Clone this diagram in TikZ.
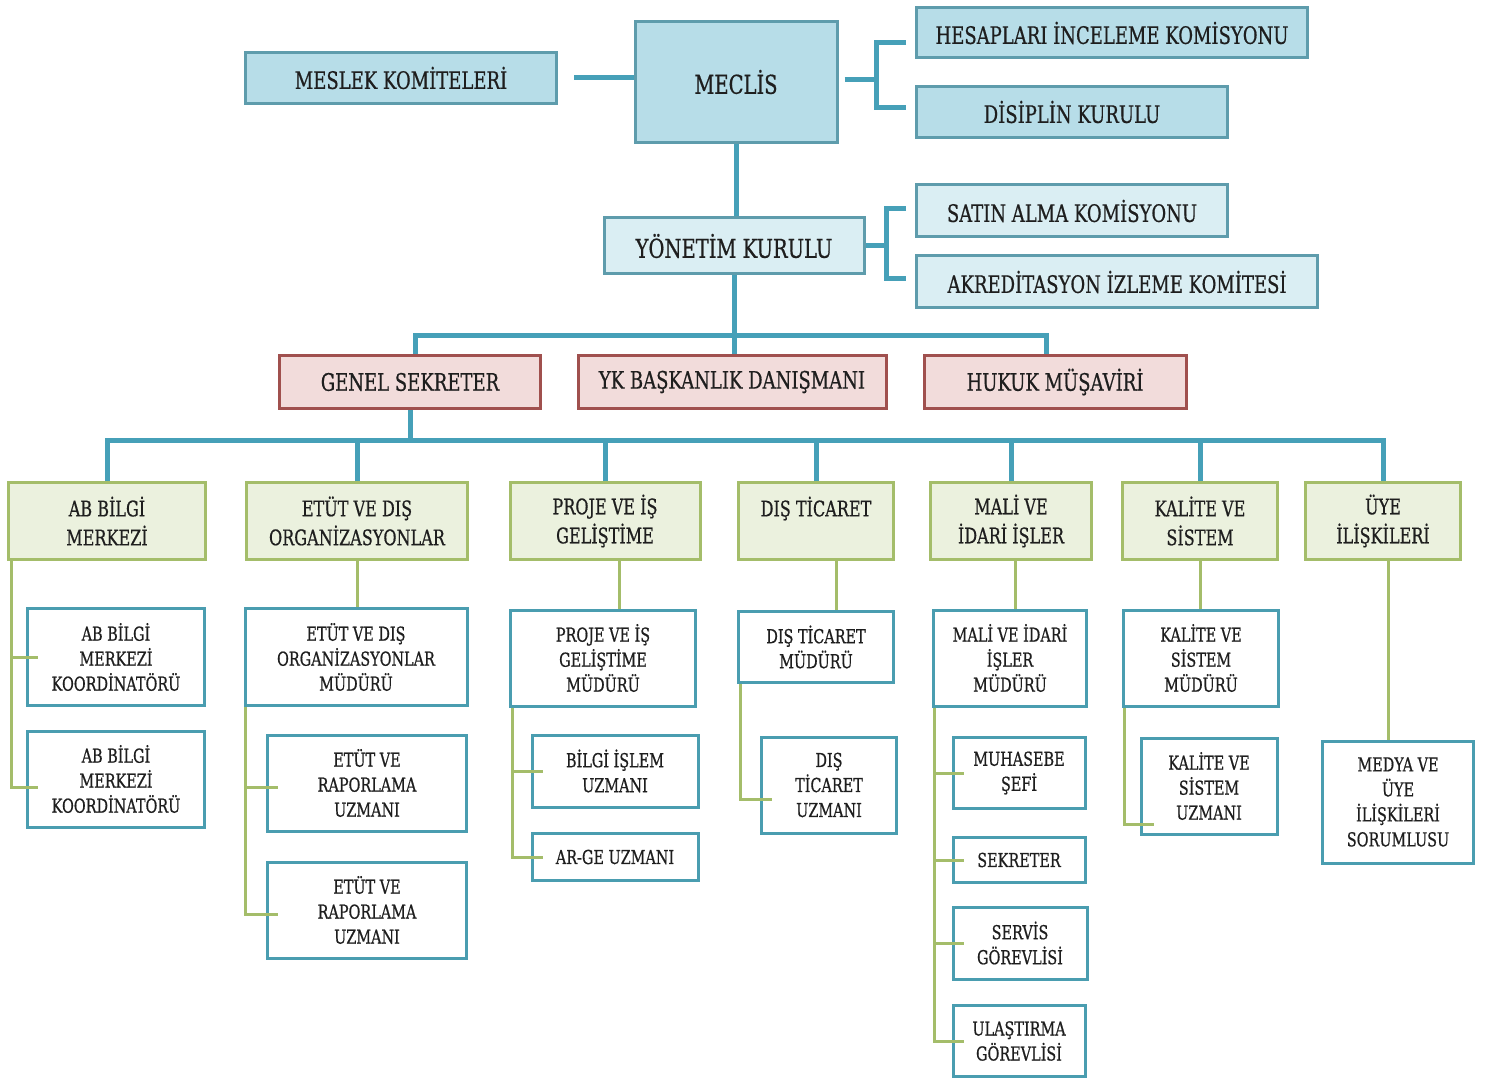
\documentclass[tikz,border=0pt]{standalone}
\usepackage{fontspec}
\setmainfont[FakeStretch=0.75,FakeBold=0.6]{DejaVu Serif}
\definecolor{topfill}{HTML}{B7DDE8}
\definecolor{ykfill}{HTML}{DAEEF3}
\definecolor{topline}{HTML}{5E9CAC}
\definecolor{redfill}{HTML}{F2DCDB}
\definecolor{redline}{HTML}{A0504E}
\definecolor{grnfill}{HTML}{EBF1DE}
\definecolor{grnline}{HTML}{A4BD6A}
\definecolor{subline}{HTML}{4A9DB0}
\definecolor{teal}{HTML}{46A0B8}
\definecolor{ink}{HTML}{1E1E1E}
\tikzset{
	sz/.style 2 args={minimum width=#1*0.5pt, minimum height=#2*0.5pt},
	bx/.style={draw, line width=1.5pt, align=center, inner sep=0pt, text=ink},
	topbox/.style={bx, draw=topline, fill=topfill, font=\fontsize{12}{14}\selectfont},
	ykbox/.style={topbox, fill=ykfill},
	redbox/.style={bx, draw=redline, fill=redfill, font=\fontsize{12}{14}\selectfont},
	deptbox/.style={bx, draw=grnline, fill=grnfill, font=\fontsize{10.7}{14.5}\selectfont},
	subbox/.style={bx, draw=subline, fill=white, font=\fontsize{9.6}{12.5}\selectfont},
	tline/.style={draw=teal, line width=2.5pt},
	gline/.style={draw=grnline, line width=1.5pt}
}
\begin{document}
\begin{tikzpicture}[x=0.5pt,y=-0.5pt]
	\useasboundingbox (0,0) rectangle (1491,1079);
	
	% meclis level
	\node[topbox, sz={311}{51}] (mk) at (401,78) {MESLEK KOMİTELERİ};
	\node[topbox, sz={202}{121}, font=\fontsize{13}{15}\selectfont] (meclis) at (736,82) {MECLİS};
	\node[topbox, sz={391}{50}] (hik) at (1112,33) {HESAPLARI İNCELEME KOMİSYONU};
	\node[topbox, sz={311}{51}] (dk) at (1072,112) {DİSİPLİN KURULU};
	
	% yonetim level
	\node[ykbox, sz={260}{56}, font=\fontsize{13}{15}\selectfont] (yk) at (734,246) {YÖNETİM KURULU};
	\node[ykbox, sz={311}{52}] (sak) at (1072,211) {SATIN ALMA KOMİSYONU};
	\node[ykbox, sz={401}{52}] (aik) at (1117,282) {AKREDİTASYON İZLEME KOMİTESİ};
	
	% red row
	\node[redbox, sz={261}{53}] (gs) at (410,382) {GENEL SEKRETER};
	\node[redbox, sz={308}{53}] (ykd) at (732,382) {YK BAŞKANLIK DANIŞMANI};
	\node[redbox, sz={262}{53}] (hm) at (1055,382) {HUKUK MÜŞAVİRİ};
	
	% departments
	\node[deptbox, sz={197}{77}] (d1) at (107,521) {AB BİLGİ\\MERKEZİ};
	\node[deptbox, sz={221}{77}] (d2) at (357,521) {ETÜT VE DIŞ\\ORGANİZASYONLAR};
	\node[deptbox, sz={190}{77}] (d3) at (605,521) {PROJE VE İŞ\\GELİŞTİME};
	\node[deptbox, sz={155}{77}] (d4) at (816,521) {DIŞ TİCARET\\\mbox{}};
	\node[deptbox, sz={161}{77}] (d5) at (1011,521) {MALİ VE\\İDARİ İŞLER};
	\node[deptbox, sz={155}{77}] (d6) at (1200,521) {KALİTE VE\\SİSTEM};
	\node[deptbox, sz={155}{77}] (d7) at (1383,521) {ÜYE\\İLİŞKİLERİ};
	
	% sub units
	\node[subbox, sz={177}{97}] (a1) at (116,657) {AB BİLGİ\\MERKEZİ\\KOORDİNATÖRÜ};
	\node[subbox, sz={177}{96}] (a2) at (116,779) {AB BİLGİ\\MERKEZİ\\KOORDİNATÖRÜ};
	
	\node[subbox, sz={222}{97}] (e0) at (356,657) {ETÜT VE DIŞ\\ORGANİZASYONLAR\\MÜDÜRÜ};
	\node[subbox, sz={199}{96}] (e1) at (367,783) {ETÜT VE\\RAPORLAMA\\UZMANI};
	\node[subbox, sz={199}{96}] (e2) at (367,910) {ETÜT VE\\RAPORLAMA\\UZMANI};
	
	\node[subbox, sz={185}{96}] (p0) at (603,658) {PROJE VE İŞ\\GELİŞTİME\\MÜDÜRÜ};
	\node[subbox, sz={166}{72}] (p1) at (615,771) {BİLGİ İŞLEM\\UZMANI};
	\node[subbox, sz={166}{47}] (p2) at (615,857) {AR-GE UZMANI};
	
	\node[subbox, sz={155}{71}] (t0) at (816,647) {DIŞ TİCARET\\MÜDÜRÜ};
	\node[subbox, sz={135}{96}] (t1) at (829,785) {DIŞ\\TİCARET\\UZMANI};
	
	\node[subbox, sz={153}{96}] (m0) at (1010,658) {MALİ VE İDARİ\\İŞLER\\MÜDÜRÜ};
	\node[subbox, sz={132}{71}] (m1) at (1019,773) {MUHASEBE\\ŞEFİ};
	\node[subbox, sz={132}{45}] (m2) at (1019,860) {SEKRETER};
	\node[subbox, sz={134}{72}] (m3) at (1020,943) {SERVİS\\GÖREVLİSİ};
	\node[subbox, sz={132}{71}] (m4) at (1019,1041) {ULAŞTIRMA\\GÖREVLİSİ};
	
	\node[subbox, sz={155}{96}] (k0) at (1201,658) {KALİTE VE\\SİSTEM\\MÜDÜRÜ};
	\node[subbox, sz={136}{96}] (k1) at (1209,786) {KALİTE VE\\SİSTEM\\UZMANI};
	
	\node[subbox, sz={151}{122}] (u1) at (1398,802) {MEDYA VE\\ÜYE\\İLİŞKİLERİ\\SORUMLUSU};
	
	% teal connectors
	\coordinate (br1) at (876,80);
	\coordinate (br2) at (886,246);
	\coordinate (bar1) at (734,336);
	\coordinate (bar2) at (410,440);
	\draw[tline] ([xshift=8pt]mk.east) -- (meclis.west |- mk.east);
	\draw[tline] ([xshift=3pt]meclis.east |- br1) -- (br1);
	\draw[tline] ([xshift=-4.5pt,yshift=-5pt]hik.west) -| (br1) |- ([xshift=-4.5pt,yshift=2pt]dk.west);
	\draw[tline] (meclis.south) -- (meclis.south |- yk.north);
	\draw[tline] (yk.east) -- (br2);
	\draw[tline] ([xshift=-4.5pt,yshift=1pt]sak.west) -| (br2) |- ([xshift=-4.5pt,yshift=1.5pt]aik.west);
	\draw[tline] (yk.south) -- (yk.south |- ykd.north);
	\draw[tline] ([xshift=2.5pt]gs.north) |- (bar1) -| ([xshift=-4.5pt]hm.north);
	\draw[tline] (gs.south) -- (bar2);
	\draw[tline] (d1.north) |- (bar2) -| (d7.north);
	\foreach \i in {2,...,6}
		\draw[tline] (d\i.north) -- (d\i.north |- bar2);
	
	% green connectors
	\draw[gline] ([xshift=2pt]d1.south west) |- ([xshift=6pt]a1.west);
	\draw[gline] ([xshift=2pt]d1.south west) |- ([xshift=6pt,yshift=-4pt]a2.west);
	
	\draw[gline] (d2.south) -- (d2.south |- e0.north);
	\foreach \n in {e1,e2}
		\draw[gline] ([xshift=1pt]e0.south west) |- ([xshift=6pt,yshift=-2pt]\n.west);
	
	\draw[gline] ([xshift=7pt]d3.south) -- ([xshift=7pt]d3.south |- p0.north);
	\foreach \n in {p1,p2}
		\draw[gline] ([xshift=1.5pt]p0.south west) |- ([xshift=6pt]\n.west);
	
	\draw[gline] ([xshift=10pt]d4.south) -- ([xshift=10pt]d4.south |- t0.north);
	\draw[gline] ([xshift=1.5pt]t0.south west) |- ([xshift=6pt,yshift=-7pt]t1.west);
	
	\draw[gline] ([xshift=2pt]d5.south) -- ([xshift=2pt]d5.south |- m0.north);
	\foreach \n in {m1,m2,m3,m4}
		\draw[gline] ([xshift=1pt]m0.south west) |- ([xshift=6pt]\n.west);
	
	\draw[gline] (d6.south) -- (d6.south |- k0.north);
	\draw[gline] ([xshift=1pt]k0.south west) |- ([xshift=7pt,yshift=-19pt]k1.west);
	
	\draw[gline] ([xshift=2.5pt]d7.south) -- ([xshift=2.5pt]d7.south |- u1.north);
\end{tikzpicture}
\end{document}
